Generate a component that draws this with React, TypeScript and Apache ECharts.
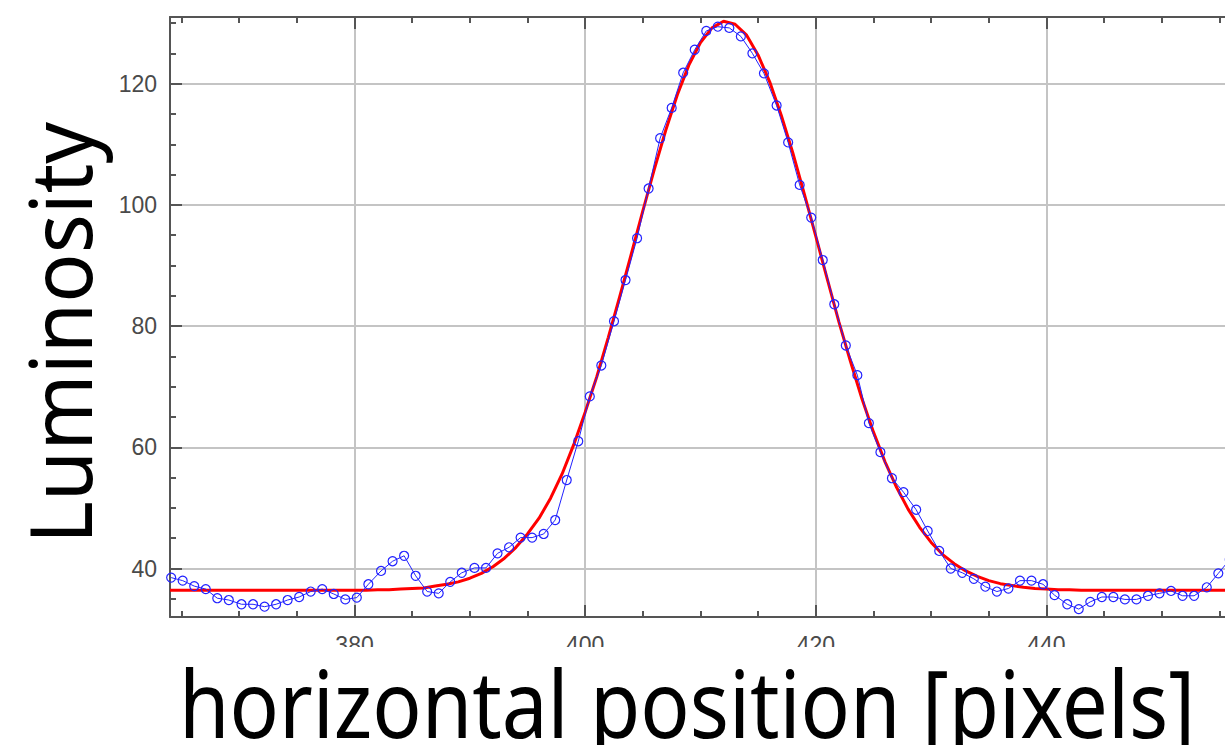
import React, { useEffect, useRef } from "react";
import * as echarts from "echarts";

// Fitted curve (red)
const fitX = [
  364, 365, 366, 367, 368, 369, 370, 371, 372, 373, 374, 375, 376, 377, 378, 379, 380, 381,
  382, 383, 384, 385, 386, 387, 388, 389, 390, 391, 392, 393, 394, 395, 396, 397, 398, 399,
  400, 401, 402, 403, 404, 405, 406, 407, 408, 409, 410, 411, 412, 413, 414, 415, 416, 417,
  418, 419, 420, 421, 422, 423, 424, 425, 426, 427, 428, 429, 430, 431, 432, 433, 434, 435,
  436, 437, 438, 439, 440, 441, 442, 443, 444, 445, 446, 447, 448, 449, 450, 451, 452, 453,
  454, 455, 456,
];
const fitY = [
  36.4, 36.4, 36.4, 36.4, 36.4, 36.4, 36.4, 36.4, 36.4, 36.4, 36.4, 36.4, 36.4, 36.4, 36.4, 36.4, 36.4, 36.4,
  36.5, 36.5, 36.6, 36.7, 36.8, 37.1, 37.4, 37.8, 38.4, 39.2, 40.3, 41.7, 43.5, 45.7, 48.3, 51.6, 55.6, 60.4,
  65.8, 71.6, 78.1, 84.9, 91.9, 99.0, 105.9, 112.4, 118.2, 123.1, 126.8, 129.2, 130.3, 129.8, 128.0, 124.7, 120.3, 114.8,
  108.6, 101.8, 94.8, 87.7, 80.7, 74.2, 68.0, 62.5, 57.6, 53.4, 49.8, 46.8, 44.3, 42.3, 40.8, 39.6, 38.7, 38.0,
  37.5, 37.2, 36.9, 36.7, 36.6, 36.5, 36.5, 36.4, 36.4, 36.4, 36.4, 36.4, 36.4, 36.4, 36.4, 36.4, 36.4, 36.4,
  36.4, 36.4, 36.4,
];

const dataX = [
  364.1, 365.1, 366.1, 367.1, 368.1, 369.1, 370.2, 371.2, 372.2, 373.2, 374.2, 375.2, 376.2, 377.2, 378.2, 379.2,
  380.2, 381.2, 382.3, 383.3, 384.3, 385.3, 386.3, 387.3, 388.3, 389.3, 390.4, 391.4, 392.4, 393.4, 394.4, 395.4,
  396.4, 397.4, 398.4, 399.4, 400.4, 401.4, 402.5, 403.5, 404.5, 405.5, 406.5, 407.5, 408.5, 409.5, 410.5, 411.5,
  412.5, 413.5, 414.5, 415.5, 416.6, 417.6, 418.6, 419.6, 420.6, 421.6, 422.6, 423.6, 424.6, 425.6, 426.6, 427.6,
  428.7, 429.7, 430.7, 431.7, 432.7, 433.7, 434.7, 435.7, 436.7, 437.7, 438.7, 439.7, 440.7, 441.8, 442.8, 443.8,
  444.8, 445.8, 446.8, 447.8, 448.8, 449.8, 450.8, 451.8, 452.8, 453.9, 454.9, 455.9,
];
const dataY = [
  38.5, 38.0, 37.1, 36.6, 35.1, 34.8, 34.1, 34.1, 33.7, 34.1, 34.8, 35.3, 36.2, 36.6, 35.8, 34.9,
  35.2, 37.4, 39.6, 41.2, 42.1, 38.8, 36.2, 35.9, 37.8, 39.3, 40.1, 40.1, 42.5, 43.5, 45.1, 45.1,
  45.7, 48.0, 54.6, 61.0, 68.4, 73.5, 80.8, 87.6, 94.5, 102.7, 111.0, 116.0, 121.8, 125.6, 128.7, 129.4,
  129.2, 127.8, 125.0, 121.7, 116.4, 110.3, 103.3, 97.9, 90.9, 83.6, 76.8, 71.9, 64.0, 59.2, 54.9, 52.6,
  49.7, 46.2, 42.9, 40.0, 39.3, 38.3, 37.0, 36.2, 36.7, 38.0, 38.0, 37.4, 35.6, 34.1, 33.3, 34.5,
  35.3, 35.3, 34.9, 34.9, 35.5, 35.9, 36.3, 35.5, 35.5, 36.9, 39.2, 41.5,
];

const xMajorTicks = [380, 400, 420, 440];
const xMinorTicks = [365, 370, 375, 385, 390, 395, 405, 410, 415, 425, 430, 435, 445, 450, 455];
const yMajorTicks = [40, 60, 80, 100, 120];
const yMinorTicks = [35, 45, 50, 55, 65, 70, 75, 85, 90, 95, 105, 110, 115, 125, 130];

const xTitle = "horizontal position [pixels]";
const yTitle = "Luminosity";

export default function App() {
  const ref = useRef<HTMLDivElement>(null);

  useEffect(() => {
    const chart = echarts.init(ref.current!, null, { renderer: "svg" });
    const axisColor = "#555555";
    const gridColor = "#c4c4c4";
    const labelStyle = { fontFamily: "Liberation Sans", fontSize: 23, color: "#4a4a4a" };
    const xRange = { min: 364, max: 456 };
    const yRange = { min: 32, max: 131 };

    const tickAxis = (pos: string, ticks: number[], len: number, showLine: boolean) => ({
      type: "value",
      position: pos,
      ...(pos === "left" ? yRange : xRange),
      axisLine: { show: showLine, onZero: false, lineStyle: { color: axisColor, width: 2 } },
      axisTick: { show: true, inside: true, length: len, customValues: ticks, lineStyle: { color: axisColor, width: 2 } },
      axisLabel: { show: false },
      splitLine: { show: false },
    });

    chart.setOption({
      animation: false,
      backgroundColor: "#ffffff",
      grid: { left: 170, top: 17, right: -6, bottom: 128, containLabel: false, outerBoundsMode: "none" },
      xAxis: [
        {
          type: "value",
          position: "bottom",
          ...xRange,
          axisLine: { show: true, onZero: false, lineStyle: { color: axisColor, width: 2 } },
          axisTick: { show: true, inside: true, length: 12, customValues: xMajorTicks, lineStyle: { color: axisColor, width: 2 } },
          axisLabel: { show: true, customValues: xMajorTicks, margin: 16, ...labelStyle },
          splitLine: { show: true, lineStyle: { color: gridColor, width: 2 } },
        },
        tickAxis("bottom", xMinorTicks, 6, false),
        tickAxis("top", xMajorTicks, 12, true),
        tickAxis("top", xMinorTicks, 6, false),
      ],
      yAxis: [
        {
          type: "value",
          position: "left",
          ...yRange,
          axisLine: { show: true, onZero: false, lineStyle: { color: axisColor, width: 2 } },
          axisTick: { show: true, inside: true, length: 12, customValues: yMajorTicks, lineStyle: { color: axisColor, width: 2 } },
          axisLabel: { show: true, customValues: yMajorTicks, margin: 13, ...labelStyle },
          splitLine: { show: true, lineStyle: { color: gridColor, width: 2 } },
        },
        tickAxis("left", yMinorTicks, 6, false),
      ],
      series: [
        {
          type: "line",
          xAxisIndex: 0,
          yAxisIndex: 0,
          data: fitX.map((x, i) => [x, fitY[i]]),
          symbol: "none",
          lineStyle: { color: "#ff0000", width: 3 },
          z: 2,
        },
        {
          type: "line",
          xAxisIndex: 0,
          yAxisIndex: 0,
          data: dataX.map((x, i) => [x, dataY[i]]),
          symbol: "circle",
          symbolSize: 9,
          lineStyle: { color: "#2222ff", width: 1 },
          itemStyle: { color: "rgba(255,255,255,0)", borderColor: "#2222ff", borderWidth: 1.2 },
          z: 3,
        },
      ],
      graphic: [
        {
          type: "rect",
          z: 100,
          shape: { x: 0, y: 647, width: 1225, height: 98 },
          style: { fill: "#ffffff" },
        },
        {
          type: "text",
          z: 101,
          x: 687,
          y: 702,
          scaleX: 0.87,
          style: {
            text: xTitle,
            fontFamily: "Noto Sans",
            fontSize: 94,
            fill: "#000000",
            textAlign: "center",
            align: "center",
            textVerticalAlign: "middle",
            verticalAlign: "middle",
          },
        },
        {
          type: "text",
          z: 101,
          x: 59,
          y: 333,
          rotation: Math.PI / 2,
          scaleX: 0.95,
          style: {
            text: yTitle,
            fontFamily: "Noto Sans",
            fontSize: 86,
            fill: "#000000",
            textAlign: "center",
            align: "center",
            textVerticalAlign: "middle",
            verticalAlign: "middle",
          },
        },
      ],
    });

    return () => chart.dispose();
  }, []);

  return (
    <div
      ref={ref}
      style={{ position: "fixed", left: 0, top: 0, width: 1225, height: 745, background: "#fff" }}
    />
  );
}
